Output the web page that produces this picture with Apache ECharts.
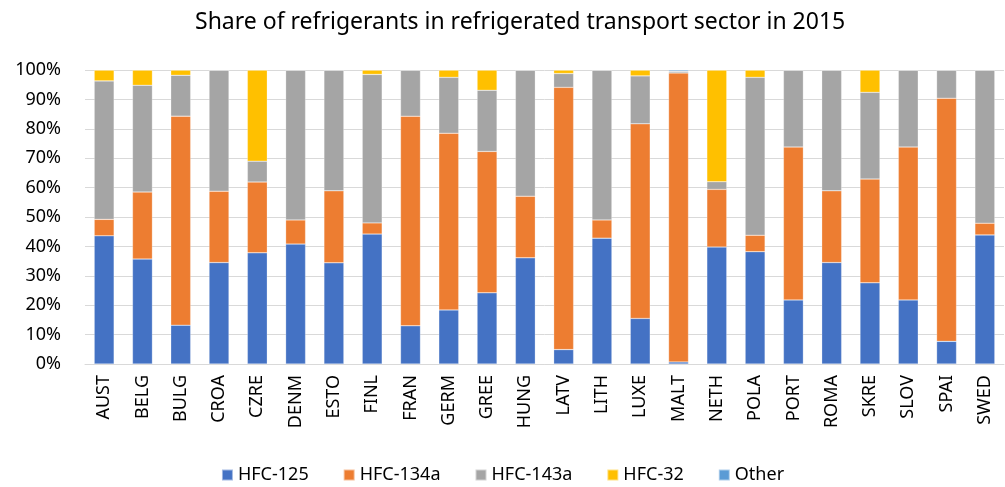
<!DOCTYPE html>
<html>
<head>
<meta charset="utf-8">
<script src="https://cdn.jsdelivr.net/npm/echarts@6/dist/echarts.min.js"></script>
<style>
  html, body { margin: 0; padding: 0; background: #fff; }
  #chart { width: 1005px; height: 487px; }
</style>
</head>
<body>
<div id="chart"></div>
<script>
// categories (countries)
var countries = ['AUST','BELG','BULG','CROA','CZRE','DENM','ESTO','FINL','FRAN','GERM','GREE','HUNG',
                 'LATV','LITH','LUXE','MALT','NETH','POLA','PORT','ROMA','SKRE','SLOV','SPAI','SWED'];

// shares in %
var hfc125  = [43.6, 35.7, 13.2, 34.5, 37.8, 40.8, 34.4, 44.2, 13.0, 18.4, 24.2, 36.1,
                4.9, 42.8, 15.5,  0.7, 39.8, 38.2, 21.8, 34.5, 27.6, 21.8,  7.7, 43.9];
var hfc134a = [ 5.6, 22.8, 71.1, 24.3, 24.1,  8.2, 24.5,  3.8, 71.3, 60.1, 48.1, 21.0,
               89.2,  6.2, 66.2, 98.3, 19.6,  5.6, 52.0, 24.4, 35.3, 52.0, 82.7,  4.0];
var hfc143a = [47.1, 36.3, 13.9, 41.2,  7.1, 51.0, 41.1, 50.5, 15.7, 19.0, 20.8, 42.9,
                4.7, 51.0, 16.3,  0.6,  2.6, 53.7, 26.2, 41.1, 29.5, 26.2,  9.6, 52.1];
var hfc32   = [ 3.7,  5.2,  1.8,  0.0, 31.0,  0.0,  0.0,  1.5,  0.0,  2.5,  6.9,  0.0,
                1.2,  0.0,  2.0,  0.0, 38.0,  2.5,  0.0,  0.0,  7.6,  0.0,  0.0,  0.0];
var other   = [ 0,    0,    0,    0,    0,    0,    0,    0,    0,    0,    0,    0,
                0,    0,    0,    0.4,  0,    0,    0,    0,    0,    0,    0,    0  ];

var seriesNames = ['HFC-125', 'HFC-134a', 'HFC-143a', 'HFC-32', 'Other'];
var seriesColors = ['#4472C4', '#ED7D31', '#A5A5A5', '#FFC000', '#5B9BD5'];

var chart = echarts.init(document.getElementById('chart'));

var font = 'Noto Sans';

function makeSeries(name, data, i) {
    return {
        name: name,
        type: 'bar',
        stack: 'total',
        barWidth: '52%',
        itemStyle: {
            color: seriesColors[i],
            borderColor: 'rgba(255,255,255,0.5)',
            borderWidth: 0.5
        },
        data: data
    };
}

chart.setOption({
    animation: false,
    title: {
        text: 'Share of refrigerants in refrigerated transport sector in 2015',
        left: 190,
        top: 6,
        textStyle: { fontFamily: font, fontSize: 23, fontWeight: 'normal', color: '#000' }
    },
    grid: {
        left: 85,
        right: 1,
        top: 70,
        bottom: 123
    },
    legend: {
        bottom: -2,
        left: 'center',
        itemWidth: 11,
        itemHeight: 11,
        itemGap: 34,
        icon: 'rect',
        textStyle: { fontFamily: font, fontSize: 18, color: '#000' },
        data: seriesNames
    },
    xAxis: {
        type: 'category',
        data: countries,
        axisTick: { show: false },
        axisLine: { lineStyle: { color: '#d9d9d9' } },
        axisLabel: {
            rotate: 90,
            interval: 0,
            margin: 11,
            fontFamily: font,
            fontSize: 18,
            color: '#000'
        }
    },
    yAxis: {
        type: 'value',
        min: 0,
        max: 100,
        interval: 10,
        axisLine: { show: false },
        axisTick: { show: false },
        splitLine: { lineStyle: { color: '#d9d9d9', width: 1 } },
        axisLabel: {
            formatter: '{value}%',
            fontFamily: font,
            fontSize: 18,
            color: '#000',
            margin: 24
        }
    },
    series: [
        makeSeries(seriesNames[0], hfc125, 0),
        makeSeries(seriesNames[1], hfc134a, 1),
        makeSeries(seriesNames[2], hfc143a, 2),
        makeSeries(seriesNames[3], hfc32, 3),
        makeSeries(seriesNames[4], other, 4)
    ]
});
</script>
</body>
</html>
